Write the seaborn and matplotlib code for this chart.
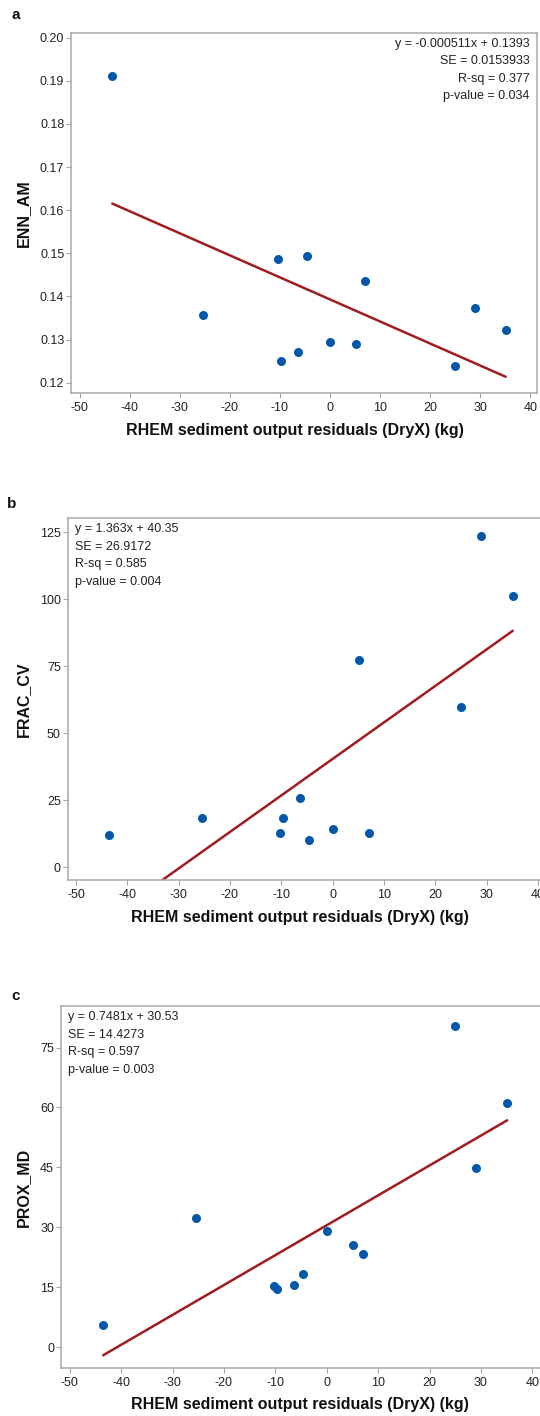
import numpy as np
import pandas as pd
import matplotlib
matplotlib.use('Agg')
import matplotlib.pyplot as plt
import seaborn as sns

# Data
residuals = [-43.5, -25.4, -10.3, -9.7, -6.3, -4.6, 0.0, 5.2, 7.0, 25.0, 29.0, 35.1]
enn_am = [0.1912, 0.1358, 0.1486, 0.1250, 0.1271, 0.1494, 0.1294, 0.1289, 0.1436, 0.1239, 0.1372, 0.1322]
frac_cv = [12.1, 18.3, 12.6, 18.3, 25.8, 10.2, 14.3, 77.1, 12.6, 59.7, 123.4, 101.2]
prox_md = [5.65, 32.4, 15.25, 14.65, 15.5, 18.25, 29.2, 25.5, 23.4, 80.3, 44.8, 61.15]

panel_letters = ['a', 'b', 'c']
y_names = ['ENN_AM', 'FRAC_CV', 'PROX_MD']
slopes = [-0.000511, 1.363, 0.7481]
intercepts = [0.1393, 40.35, 30.53]
stats_text = [
    ['y = -0.000511x + 0.1393', 'SE = 0.0153933', 'R-sq = 0.377', 'p-value = 0.034'],
    ['y = 1.363x + 40.35', 'SE = 26.9172', 'R-sq = 0.585', 'p-value = 0.004'],
    ['y = 0.7481x + 30.53', 'SE = 14.4273', 'R-sq = 0.597', 'p-value = 0.003'],
]
y_ticks = [
    [0.12, 0.13, 0.14, 0.15, 0.16, 0.17, 0.18, 0.19, 0.20],
    [0, 25, 50, 75, 100, 125],
    [0, 15, 30, 45, 60, 75],
]
x_ticks = [-50, -40, -30, -20, -10, 0, 10, 20, 30, 40]
x_label = 'RHEM sediment output residuals (DryX) (kg)'

sns.set_theme(style='white')
plt.rcParams['font.family'] = ['Liberation Sans', 'DejaVu Sans']
plt.rcParams['axes.unicode_minus'] = False

W, H = 540, 1416
fig = plt.figure(figsize=(W / 100, H / 100), dpi=100)

# pixel boxes: left, top, right, bottom
boxes = [(71.3, 33, 536.7, 393), (67.8, 518, 544.6, 880), (61, 1006, 541.6, 1368)]
xlims = [(-51.7, 41.3), (-51.6, 41.3), (-51.7, 41.8)]
ylims = [(0.1176, 0.2011), (-4.85, 130.3), (-5.2, 85.4)]
letter_pos = [(15.5, 15), (11.5, 504), (15.5, 996)]

dot_color = '#0356A8'
line_color = '#A01D1F'
spine_color = '#A8A8A8'

for i, yvals in enumerate([enn_am, frac_cv, prox_md]):
    l, t, r, b = boxes[i]
    ax = fig.add_axes([l / W, 1 - b / H, (r - l) / W, (b - t) / H])
    df = pd.DataFrame({'x': residuals, 'y': yvals})

    xs = np.array([min(residuals), max(residuals)])
    fit = pd.DataFrame({'x': xs, 'y': slopes[i] * xs + intercepts[i]})
    sns.lineplot(data=fit, x='x', y='y', ax=ax, color=line_color, linewidth=1.8)
    sns.scatterplot(data=df, x='x', y='y', ax=ax, color=dot_color, s=42,
                    linewidth=0, zorder=3)

    ax.set_xlim(*xlims[i])
    ax.set_ylim(*ylims[i])
    ax.set_xticks(x_ticks)
    ax.set_yticks(y_ticks[i])
    if i == 0:
        ax.set_yticklabels([f'{v:.2f}' for v in y_ticks[i]])
    for s in ax.spines.values():
        s.set_color(spine_color)
        s.set_linewidth(1.1)
    ax.tick_params(axis='both', which='major', direction='out', length=3.5,
                   width=0.8, color=spine_color, labelsize=9, labelcolor='#222222',
                   pad=1.5, left=True, bottom=True)
    ax.tick_params(axis='x', pad=3)

    ax.set_xlabel(x_label, fontsize=11.5, fontweight='bold', color='#111111')
    ax.set_ylabel(y_names[i], fontsize=11.5, fontweight='bold', color='#111111')
    ax.xaxis.set_label_coords((295 - l) / (r - l) if i == 0 else (300 - l) / (r - l),
                              -37 / (b - t))
    ax.xaxis.label.set_va('center')
    ax.yaxis.set_label_coords((23 - l) / (r - l), 0.5)
    ax.yaxis.label.set_va('center')

    # stats box text
    lines = stats_text[i]
    for k, txt in enumerate(lines):
        yy = t + 11 + k * 17.5
        if i == 0:
            fig.text((r - 7) / W, 1 - yy / H, txt, ha='right', va='center',
                     fontsize=9, color='#222222')
        else:
            fig.text((l + 7) / W, 1 - yy / H, txt, ha='left', va='center',
                     fontsize=9, color='#222222')

    lx, ly = letter_pos[i]
    fig.text(lx / W, 1 - ly / H, panel_letters[i], ha='center', va='center',
             fontsize=11, fontweight='bold', color='#111111')

fig.savefig('out.png', dpi=100)
